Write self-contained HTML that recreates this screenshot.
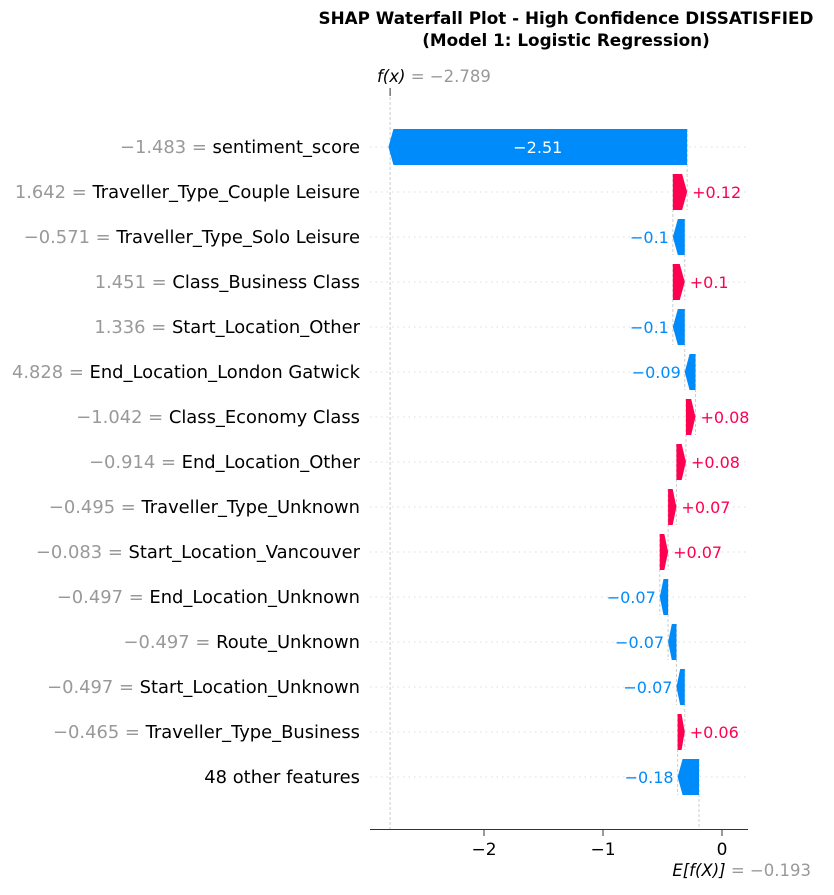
<!DOCTYPE html>
<html><head><meta charset="utf-8"><style>
body{margin:0;background:#fff;}
svg{font-family:"DejaVu Sans","Liberation Sans",sans-serif;}
</style></head><body>
<svg id="chart" width="834" height="890" viewBox="0 0 834 890" xmlns="http://www.w3.org/2000/svg">
<text x="566" y="24" text-anchor="middle" font-weight="bold" font-size="16.8">SHAP Waterfall Plot - High Confidence DISSATISFIED</text>
<text x="566" y="46" text-anchor="middle" font-weight="bold" font-size="16.8">(Model 1: Logistic Regression)</text>
<g id="grid"></g><g id="bars"></g><g id="labels"></g><g id="axis"></g>
</svg>
<script>
const featureNames = ["sentiment_score","Traveller_Type_Couple Leisure","Traveller_Type_Solo Leisure","Class_Business Class","Start_Location_Other","End_Location_London Gatwick","Class_Economy Class","End_Location_Other","Traveller_Type_Unknown","Start_Location_Vancouver","End_Location_Unknown","Route_Unknown","Start_Location_Unknown","Traveller_Type_Business","48 other features"];
const featureValues = ["\u22121.483","1.642","\u22120.571","1.451","1.336","4.828","\u22121.042","\u22120.914","\u22120.495","\u22120.083","\u22120.497","\u22120.497","\u22120.497","\u22120.465",""];
const shapValues = [-2.51,0.12,-0.1,0.1,-0.1,-0.09,0.08,0.08,0.07,0.07,-0.07,-0.07,-0.07,0.06,-0.18];
const shapLabels = ["\u22122.51","+0.12","\u22120.1","+0.1","\u22120.1","\u22120.09","+0.08","+0.08","+0.07","+0.07","\u22120.07","\u22120.07","\u22120.07","+0.06","\u22120.18"];
const baseValue = -0.193;
const fxValue = -2.789;
const tickValues = [-2,-1,0];
const tickLabels = ["\u22122","\u22121","0"];

const NS="http://www.w3.org/2000/svg";
const xs = v => 722 + 119*v;
const ys = i => 147 + 45*i;
function mk(tag, attrs, parent, text){const e=document.createElementNS(NS,tag);for(const k in attrs)e.setAttribute(k,attrs[k]);if(text!==undefined)e.textContent=text;parent.appendChild(e);return e;}
const grid=document.getElementById('grid'),bars=document.getElementById('bars'),labels=document.getElementById('labels'),axis=document.getElementById('axis');
const n=featureNames.length;
const starts=new Array(n),ends=new Array(n);
let cur=baseValue;
for(let i=n-1;i>=0;i--){starts[i]=cur;cur+=shapValues[i];ends[i]=cur;}
let l=mk('line',{x1:xs(fxValue),x2:xs(fxValue),y1:92,y2:829,stroke:'#ccc','stroke-width':1,'stroke-dasharray':'3,2'},grid);


l=mk('line',{x1:xs(baseValue),x2:xs(baseValue),y1:ys(n-1)-18,y2:829,stroke:'#ccc','stroke-width':1,'stroke-dasharray':'3,2'},grid);


for(let i=0;i<n;i++){
  const y=ys(i);
  const g=mk('line',{x1:370,x2:748,y1:y,y2:y,stroke:'#ddd','stroke-width':1,'stroke-dasharray':'1.5,4'},grid);
  
  
  if(i>0){
    const c=mk('line',{x1:xs(ends[i]),x2:xs(ends[i]),y1:ys(i-1)-18,y2:y+18,stroke:'#ccc','stroke-width':1,'stroke-dasharray':'3,2'},grid);
    
    
  }
  const v=shapValues[i],pos=v>0,col=pos?'#ff0051':'#008bfb';
  const a=xs(starts[i]),b=xs(ends[i]);
  const h=18,w=Math.abs(b-a),head=Math.min(5,w*0.45);
  let pts;
  if(pos) pts=[[a,y-h],[b-head,y-h],[b,y],[b-head,y+h],[a,y+h]];
  else pts=[[a,y-h],[b+head,y-h],[b,y],[b+head,y+h],[a,y+h]];
  const p=mk('polygon',{points:pts.map(q=>q.join(',')).join(' '),fill:col},bars);
  
  
  let t;
  if(w>60){
    t=mk('text',{x:(a+b)/2,y:y+6,'text-anchor':'middle',fill:'#fff','font-size':16},labels,shapLabels[i]);
  } else if(pos){
    t=mk('text',{x:Math.max(a,b)+5,y:y+6,'text-anchor':'start',fill:col,'font-size':16},labels,shapLabels[i]);
  } else {
    t=mk('text',{x:Math.min(a,b)-4,y:y+6,'text-anchor':'end',fill:col,'font-size':16},labels,shapLabels[i]);
  }
  
  
  const ft=mk('text',{x:360,y:y+6,'text-anchor':'end','font-size':17.9},labels);
  
  
  if(featureValues[i]){mk('tspan',{fill:'#999'},ft,featureValues[i]+' = ');}
  mk('tspan',{fill:'#000'},ft,featureNames[i]);
}
const ax=mk('line',{x1:370,x2:748,y1:829.5,y2:829.5,stroke:'#333','stroke-width':1},axis);


tickValues.forEach((v,i)=>{
  const tk=mk('line',{x1:xs(v),x2:xs(v),y1:830,y2:836,stroke:'#333'},axis);
  
  
  const tl=mk('text',{x:xs(v),y:855,'text-anchor':'middle','font-size':17},axis,tickLabels[i]);
  
  
});
const ftk=mk('line',{x1:xs(fxValue),x2:xs(fxValue),y1:88,y2:96,stroke:'#333'},axis);


const fx=mk('text',{x:377,y:82,'font-size':16.5},axis);


mk('tspan',{'font-style':'italic'},fx,'f(x)');
mk('tspan',{fill:'#999'},fx,' = '+'\u2212'+Math.abs(fxValue).toFixed(3));
const ex=mk('text',{x:811,y:876,'font-size':16.5,'text-anchor':'end'},axis);


mk('tspan',{'font-style':'italic'},ex,'E[f(X)]');
mk('tspan',{fill:'#999'},ex,' = '+'\u2212'+Math.abs(baseValue).toFixed(3));
</script>
</body></html>
